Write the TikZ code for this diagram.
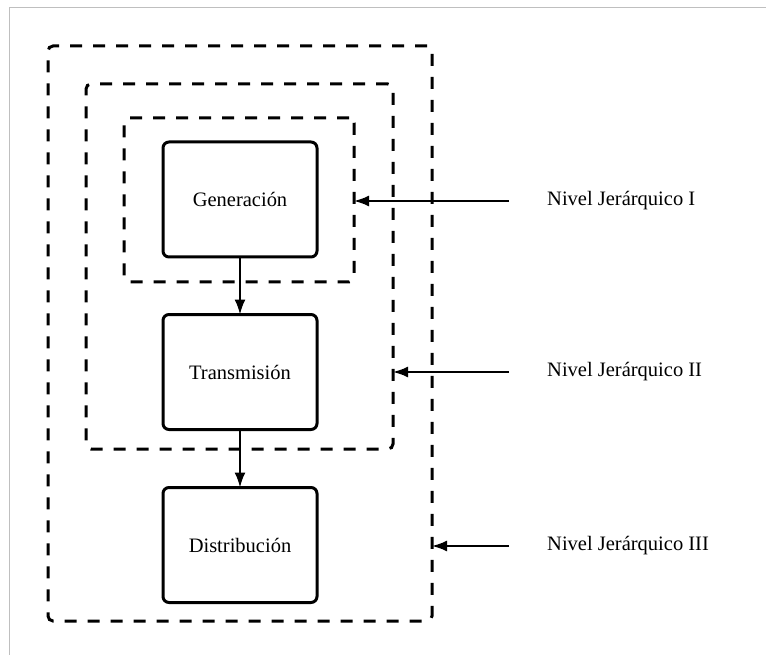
\documentclass[tikz,border=0pt]{standalone}
\usepackage{fontspec}
\setmainfont{Liberation Serif}
\usetikzlibrary{arrows.meta}
\begin{document}
\begin{tikzpicture}[x=1pt,y=-1pt,
  dashbox/.style={draw, line width=3pt, dash pattern=on 12pt off 11pt, rounded corners=5pt, inner sep=0pt, outer sep=0pt},
  stagebox/.style={draw, line width=3pt, rounded corners=6pt, minimum width=154pt, minimum height=115pt, inner sep=0pt, outer sep=0pt, font=\fontsize{20.5}{24}\selectfont},
  flow/.style={line width=2pt, -{Latex[length=15pt,width=11pt]}},
  lvl/.style={anchor=west, inner sep=0pt, font=\fontsize{20.5}{24}\selectfont}]
\useasboundingbox (0,0) rectangle (766,655);
\draw[black!25, line width=1.2pt] (9.5,655) -- (9.5,7.5) -- (766,7.5);
\node[dashbox, minimum width=384pt, minimum height=575pt] (outer) at (240,333.5) {};
\node[dashbox, minimum width=307pt, minimum height=365pt] (middle) at (239.5,266.5) {};
\node[dashbox, minimum width=230pt, minimum height=164pt] (inner) at (239,200) {};
\node[stagebox] (gen) at (240,199.5) {Generación};
\node[stagebox] (tra) at (240,372) {Transmisión};
\node[stagebox] (dis) at (240,545) {Distribución};
\draw[flow] (gen) -- (tra);
\draw[flow] (tra) -- (dis);
\node[lvl] (l1) at (547,201) {Nivel Jerárquico I};
\node[lvl] (l2) at (547,372) {Nivel Jerárquico II};
\node[lvl] (l3) at (547,546) {Nivel Jerárquico III};
\coordinate (s1) at (509,201);
\coordinate (s2) at (509,372);
\coordinate (s3) at (509,546);
\draw[flow] (s1) -- (inner.east |- s1);
\draw[flow] (s2) -- (middle.east |- s2);
\draw[flow] (s3) -- (outer.east |- s3);
\end{tikzpicture}
\end{document}
